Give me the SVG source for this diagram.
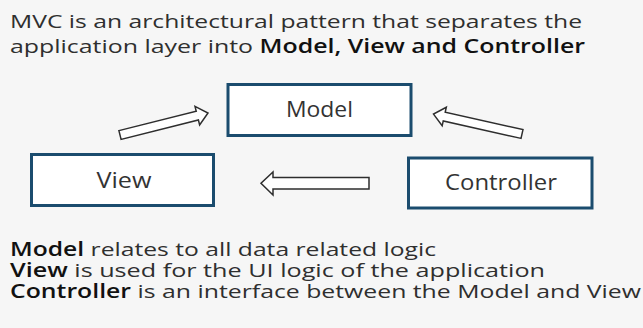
<svg xmlns="http://www.w3.org/2000/svg" width="643" height="328" viewBox="0 0 643 328">
  <style>
    .txt { font-family: "Open Sans", "Noto Sans", "DejaVu Sans", sans-serif; fill: #2f2f2f; }
    .b { font-weight: 600; fill: #111; }
    .box { fill: #ffffff; stroke: #1b4c6e; stroke-width: 3; }
    .label { font-family: "Open Sans", "Noto Sans", "DejaVu Sans", sans-serif; font-size: 21px; fill: #333; text-anchor: middle; }
    .arrow { fill: #ffffff; stroke: #2e2e2e; stroke-width: 1.5; stroke-linejoin: miter; }
  </style>
  <defs>
    <!-- hollow block arrow pointing along +x, tail centred on the origin -->
    <path id="blockArrow" d="M0,-4.5 H79.7 V-9.5 L90.7,0 L79.7,9.5 V4.5 H0 Z"/>
  </defs>

  <rect x="0" y="0" width="643" height="328" fill="#f6f6f6"/>

  <!-- heading -->
  <g id="heading" class="txt" font-size="19">
    <text x="10" y="28" textLength="572" lengthAdjust="spacingAndGlyphs">MVC is an architectural pattern that separates the</text>
    <text x="10" y="53" textLength="575" lengthAdjust="spacingAndGlyphs">application layer into <tspan class="b">Model, View and Controller</tspan></text>
  </g>

  <!-- connectors -->
  <g id="connectors">
    <use href="#blockArrow" class="arrow" transform="translate(120,135) rotate(-14.04)"/>
    <use href="#blockArrow" class="arrow" transform="translate(522,134) rotate(-167.34)"/>
    <path class="arrow" d="M369,177.5 H273 V172 L261,183.3 L273,195 V189 H369 Z"/>
  </g>

  <!-- nodes -->
  <g id="model">
    <rect class="box" x="228" y="84.5" width="183" height="51"/>
    <text class="label" x="319.5" y="117" textLength="67" lengthAdjust="spacingAndGlyphs">Model</text>
  </g>
  <g id="view">
    <rect class="box" x="31.5" y="154.5" width="182" height="51"/>
    <text class="label" x="124" y="187.5" textLength="55" lengthAdjust="spacingAndGlyphs">View</text>
  </g>
  <g id="controller">
    <rect class="box" x="408.5" y="158" width="183.5" height="50"/>
    <text class="label" x="501" y="190" textLength="112" lengthAdjust="spacingAndGlyphs">Controller</text>
  </g>

  <!-- notes -->
  <g id="notes" class="txt" font-size="19">
    <text x="10" y="256" textLength="426" lengthAdjust="spacingAndGlyphs"><tspan class="b">Model</tspan> relates to all data related logic</text>
    <text x="10" y="277" textLength="535" lengthAdjust="spacingAndGlyphs"><tspan class="b">View</tspan> is used for the UI logic of the application</text>
    <text x="10" y="298" textLength="631" lengthAdjust="spacingAndGlyphs"><tspan class="b">Controller</tspan> is an interface between the Model and View</text>
  </g>
</svg>
